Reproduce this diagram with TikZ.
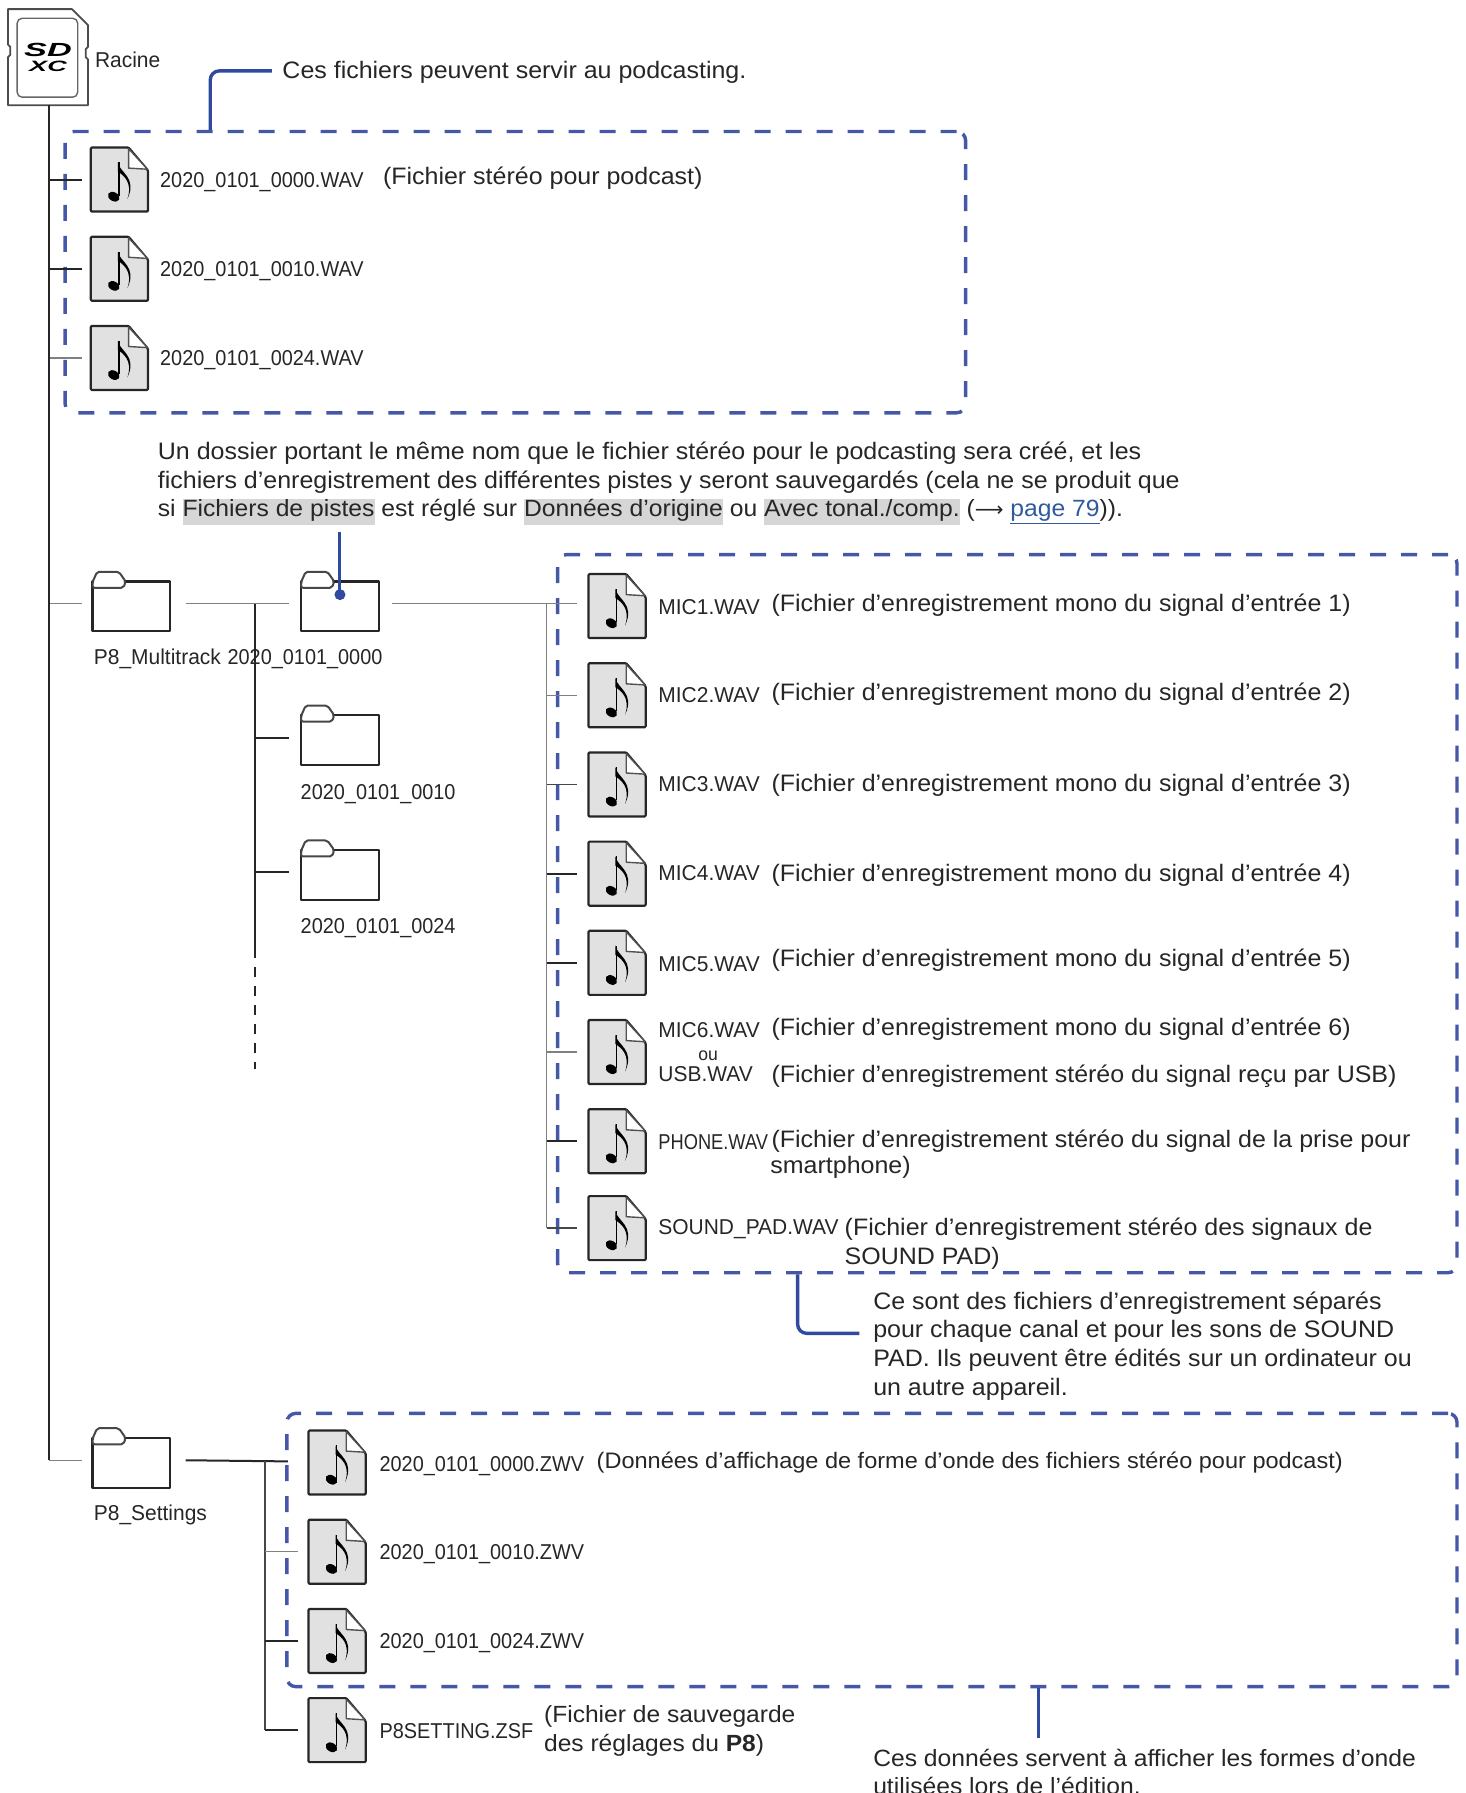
\documentclass[tikz,border=0pt]{standalone}
\usepackage{fontspec}
\usepackage{xcolor}
\usetikzlibrary{fit}
\setmainfont[FakeStretch=1.05]{Liberation Sans}
\newfontfamily\numf[FakeStretch=0.925]{Liberation Sans}
\newfontfamily\micf[FakeStretch=0.975]{Liberation Sans}
\newfontfamily\phonef[FakeStretch=0.85]{Liberation Sans}
\newfontfamily\arrowf{DejaVu Sans}
\newfontfamily\sdf[FakeStretch=1.8]{Liberation Sans}
\definecolor{dashblue}{HTML}{4558A8}
\definecolor{callblue}{HTML}{2F4A9F}
\definecolor{inkc}{HTML}{262626}
\definecolor{iconfill}{HTML}{E1E1E1}
\definecolor{hlgray}{HTML}{D6D6D6}
\definecolor{linkblue}{HTML}{2F5A9E}
\newcommand{\hlt}[1]{{\setlength{\fboxsep}{0pt}\colorbox{hlgray}{\strut #1}}}
\tikzset{
  body/.style={anchor=base west,inner sep=0pt,text=inkc,font=\fontsize{23.8}{26}\selectfont},
  wide/.style={anchor=base west,inner sep=0pt,text=inkc,font=\fontsize{22.4}{26}\selectfont},
  fname/.style={anchor=base west,inner sep=0pt,text=inkc,font=\numf\fontsize{21.5}{26}\selectfont},
  mname/.style={anchor=base west,inner sep=0pt,text=inkc,font=\micf\fontsize{21.5}{26}\selectfont},
  dashbox/.style={draw=dashblue,line width=3.4pt,dash pattern=on 16pt off 15pt,rounded corners=9pt,inner sep=0pt},
  callout/.style={draw=callblue,line width=3.4pt,rounded corners=9pt},
  heavy/.style={draw=inkc,line width=2pt},
  medium/.style={draw=inkc!85,line width=1.6pt},
  light/.style={draw=black!50,line width=1.3pt},
  iconbox/.style={minimum width=57pt,minimum height=65pt,inner sep=0pt},
  folderbox/.style={minimum width=78pt,minimum height=60pt,inner sep=0pt},
  notefile/.pic={
    \draw[line width=2.2pt,draw=inkc,fill=iconfill,rounded corners=1pt,line join=round]
      (-25,-28) -- (8,-28) -- (25,-8) -- (25,28) -- (-25,28) -- cycle;
    \draw[line width=1.4pt,draw=inkc!80,fill=white,line join=round] (8,-27) -- (8,-10) -- (24.5,-9) -- cycle;
    \fill[black,rotate around={-30:(-5,15)}] (-5,15) ellipse (6.2pt and 4.4pt);
    \draw[black,line width=1.8pt] (-0.6,14) -- (-0.6,-15);
    \fill[black] (-1.4,-15) .. controls (0,-6) and (16,-2) .. (7,17)
       .. controls (12,2) and (3,-4) .. (-1.4,-7) -- cycle;
  },
  emptyfolder/.pic={
    \draw[line width=2.2pt,draw=inkc,fill=white,line join=round]
      (-34,-19.5) -- (34,-19.5) -- (34,24) -- (-34,24) -- cycle;
    \draw[line width=2pt,draw=inkc!85,fill=white,line join=round,rounded corners=2pt]
      (-34,-14) -- (-34,-19) -- (-30,-28) -- (-11,-28) -- (-5,-19.5) -- (-7,-14) -- cycle;
  },
}
\newcommand{\fileicon}[3]{\node[iconbox] (#1) at (#2,#3) {}; \pic at (#1.center) {notefile};}
\newcommand{\foldericon}[3]{\node[folderbox] (#1) at (#2,#3) {}; \pic at (#1.center) {emptyfolder};}
\begin{document}
\begin{tikzpicture}[x=1.14275pt,y=-1.14349pt]
\useasboundingbox (0,0) rectangle (1282,1568);
% SD card
\node[minimum width=80pt,minimum height=97pt,inner sep=0pt] (sd) at (42,50) {};
\draw[line width=1.8pt,draw=black!70,line join=round,fill=white]
  (7,8) -- (63,8) -- (77,22) -- (77,41) -- (75,43) -- (75,50) -- (77,52) -- (77,92) -- (7,92) -- (7,50) -- (9,48) -- (9,41) -- (7,39) -- cycle;
\draw[line width=1.4pt,draw=black!60,rounded corners=5pt] (15,16) rectangle (68,85);
\node[inner sep=0pt,font=\sdf\bfseries\itshape\fontsize{19}{20}\selectfont,text=black] (sdlogo) at (42,44) {SD};
\node[inner sep=0pt,font=\sdf\bfseries\itshape\fontsize{15}{16}\selectfont,text=black] (xclogo) at (42,58) {XC};
\node[mname] (racine) at (83,59) {Racine};
\coordinate (trunk) at (43,92);
% upper box
\node[dashbox,fit={(57,115)(845,361)}] (box1) {};
\node[body] (ces) at (247,68.5) {Ces fichiers peuvent servir au podcasting.};
\coordinate (c1) at (184,62);
\coordinate (c1e) at (238,62);
\draw[callout] (c1 |- box1.north) -- (c1) -- (c1e);
\fileicon{a1}{104.5}{157}
\fileicon{a2}{104.5}{235}
\fileicon{a3}{104.5}{313}
\draw[heavy] (trunk |- a1.center) -- ([xshift=-8.5pt]a1.west);
\draw[heavy] (trunk |- a2.center) -- ([xshift=-8.5pt]a2.west);
\draw[light] (trunk |- a3.center) -- ([xshift=-8.5pt]a3.west);
\node[fname] (a1t) at (140,164) {2020\_0101\_0000.WAV};
\node[fname] (a2t) at (140,242) {2020\_0101\_0010.WAV};
\node[fname] (a3t) at (140,320) {2020\_0101\_0024.WAV};
\node[body] (a1d) at (335,161.5) {(Fichier stéréo pour podcast)};
% paragraph
\node[body] (p1) at (138,402) {Un dossier portant le même nom que le fichier stéréo pour le podcasting sera créé, et les};
\node[body] (p2) at (138,427) {fichiers d'enregistrement des différentes pistes y seront sauvegardés (cela ne se produit que};
\node[body,font=\fontsize{23.5}{26}\selectfont] (p3) at (138,452) {si \hlt{Fichiers de pistes} est réglé sur \hlt{Données d’origine} ou \hlt{Avec tonal./comp.} ({\arrowf\fontsize{20}{26}\selectfont ⟶} \textcolor{linkblue}{\underline{page 79}})).};
% multitrack row
\foldericon{f1}{115}{528}
\foldericon{f2}{297.5}{528}
\foldericon{f3}{297.5}{645}
\foldericon{f4}{297.5}{763}
\node[mname] (f1t) at (82,581) {P8\_Multitrack};
\node[fname] (f2t) at (199,581) {2020\_0101\_0000};
\node[fname] (f3t) at (263,699) {2020\_0101\_0010};
\node[fname] (f4t) at (263,816) {2020\_0101\_0024};
\draw[light] (trunk |- f1.center) -- ([xshift=-10pt]f1.west);
\coordinate (bus1) at (223.5,528);
\coordinate (bus1end) at (223.5,838);
\coordinate (bus1dash) at (223.5,935);
\draw[light] ([xshift=15pt]f1.east) -- ([xshift=-12pt]f2.west);
\draw[heavy] (bus1) -- (bus1end);
\draw[heavy,dash pattern=on 10pt off 9pt] ([yshift=-9pt]bus1end) -- (bus1dash);
\draw[heavy] (bus1 |- f3.center) -- ([xshift=-12pt]f3.west);
\draw[heavy] (bus1 |- f4.center) -- ([xshift=-12pt]f4.west);
\coordinate (m0) at (297.5,465);
\coordinate (mdot) at (297.5,520);
\draw[draw=callblue,line width=3pt] (m0) -- (mdot);
\fill[callblue] (mdot) circle (5.5pt);
% mic box
\node[dashbox,fit={(488,485)(1275,1113)}] (box2) {};
\coordinate (bus2) at (478.5,528);
\fileicon{m1}{540}{530}
\fileicon{m2}{540}{608}
\fileicon{m3}{540}{686}
\fileicon{m4}{540}{764}
\fileicon{m5}{540}{842}
\fileicon{m6}{540}{920}
\fileicon{m7}{540}{998}
\fileicon{m8}{540}{1074}
\draw[light] ([xshift=12.5pt]f2.east) -- (bus2);
\draw[light] (bus2) -- (bus2 |- m8.center);
\draw[light] (bus2) -- ([xshift=-11pt]m1.west |- bus2);
\draw[light] (bus2 |- m2.center) -- ([xshift=-11pt]m2.west);
\draw[medium] (bus2 |- m3.center) -- ([xshift=-11pt]m3.west);
\draw[heavy] (bus2 |- m4.center) -- ([xshift=-11pt]m4.west);
\draw[heavy] (bus2 |- m5.center) -- ([xshift=-11pt]m5.west);
\draw[light] (bus2 |- m6.center) -- ([xshift=-11pt]m6.west);
\draw[heavy] (bus2 |- m7.center) -- ([xshift=-11pt]m7.west);
\draw[medium] (bus2 |- m8.center) -- ([xshift=-11pt]m8.west);
\node[mname] (m1t) at (576,537) {MIC1.WAV};
\node[mname] (m2t) at (576,614) {MIC2.WAV};
\node[mname] (m3t) at (576,692) {MIC3.WAV};
\node[mname] (m4t) at (576,770) {MIC4.WAV};
\node[mname] (m5t) at (576,850) {MIC5.WAV};
\node[mname] (m6t) at (576,907) {MIC6.WAV};
\node[mname,font=\micf\fontsize{18}{20}\selectfont] (m6o) at (611,927) {ou};
\node[mname] (m6u) at (576,946) {USB.WAV};
\node[mname,font=\phonef\fontsize{21.5}{26}\selectfont] (m7t) at (576,1005) {PHONE.WAV};
\node[mname] (m8t) at (576,1080) {SOUND\_PAD.WAV};
\node[body] (m1d) at (675,534.5) {(Fichier d’enregistrement mono du signal d’entrée 1)};
\node[body] (m2d) at (675,612.5) {(Fichier d’enregistrement mono du signal d’entrée 2)};
\node[body] (m3d) at (675,692.5) {(Fichier d’enregistrement mono du signal d’entrée 3)};
\node[body] (m4d) at (675,770.5) {(Fichier d’enregistrement mono du signal d’entrée 4)};
\node[body] (m5d) at (675,845.5) {(Fichier d’enregistrement mono du signal d’entrée 5)};
\node[body] (m6d) at (675,905.5) {(Fichier d’enregistrement mono du signal d’entrée 6)};
\node[body] (m6e) at (675,946.5) {(Fichier d’enregistrement stéréo du signal reçu par USB)};
\node[body] (m7d) at (675,1003.5) {(Fichier d’enregistrement stéréo du signal de la prise pour};
\node[body] (m7e) at (674,1026.5) {smartphone)};
\node[body] (m8d) at (739,1080.5) {(Fichier d’enregistrement stéréo des signaux de};
\node[body] (m8e) at (739,1105.5) {SOUND PAD)};
% callout 2
\coordinate (c2) at (698,1166);
\coordinate (c2e) at (752,1166);
\draw[callout] (c2 |- box2.south) -- (c2) -- (c2e);
\node[body] (n1) at (764,1145) {Ce sont des fichiers d'enregistrement séparés};
\node[body] (n2) at (764,1170) {pour chaque canal et pour les sons de SOUND};
\node[body] (n3) at (764,1195) {PAD. Ils peuvent être édités sur un ordinateur ou};
\node[body] (n4) at (764,1220) {un autre appareil.};
% settings
\foldericon{g1}{115}{1277}
\node[mname] (g1t) at (82,1330) {P8\_Settings};
\draw[heavy] (trunk) -- (trunk |- g1.center);
\draw[light] (trunk |- g1.center) -- ([xshift=-10pt]g1.west);
\node[dashbox,fit={(251,1236)(1275,1475)}] (box3) {};
\fileicon{s1}{295}{1279}
\fileicon{s2}{295}{1357}
\fileicon{s3}{295}{1435}
\fileicon{s4}{295}{1513}
\coordinate (bus3) at (232,1278);
\coordinate (bus3e) at (252,1278);
\draw[heavy] ([xshift=15pt]g1.east) -- (bus3e);
\draw[medium] (bus3) -- (bus3 |- s4.center);
\draw[light] (bus3 |- s2.center) -- ([xshift=-10pt]s2.west);
\draw[heavy] (bus3 |- s3.center) -- ([xshift=-10pt]s3.west);
\draw[heavy] (bus3 |- s4.center) -- ([xshift=-10pt]s4.west);
\node[fname] (s1t) at (332,1287) {2020\_0101\_0000.ZWV};
\node[fname] (s2t) at (332,1364) {2020\_0101\_0010.ZWV};
\node[fname] (s3t) at (332,1442) {2020\_0101\_0024.ZWV};
\node[fname] (s4t) at (332,1520) {P8SETTING.ZSF};
\node[wide] (s1d) at (522,1284) {(Données d'affichage de forme d'onde des fichiers stéréo pour podcast)};
\node[body,font=\fontsize{23.4}{26}\selectfont] (s4d) at (476,1506) {(Fichier de sauvegarde};
\node[body,font=\fontsize{23.4}{26}\selectfont] (s4e) at (476,1532) {des réglages du \textbf{P8})};
\coordinate (c3) at (909,1520);
\draw[callout] (c3 |- box3.south) -- (c3);
\node[body,font=\fontsize{23.5}{26}\selectfont] (n5) at (764,1545) {Ces données servent à afficher les formes d'onde};
\node[body,font=\fontsize{23.5}{26}\selectfont] (n6) at (764,1569) {utilisées lors de l'édition.};
\end{tikzpicture}
\end{document}
